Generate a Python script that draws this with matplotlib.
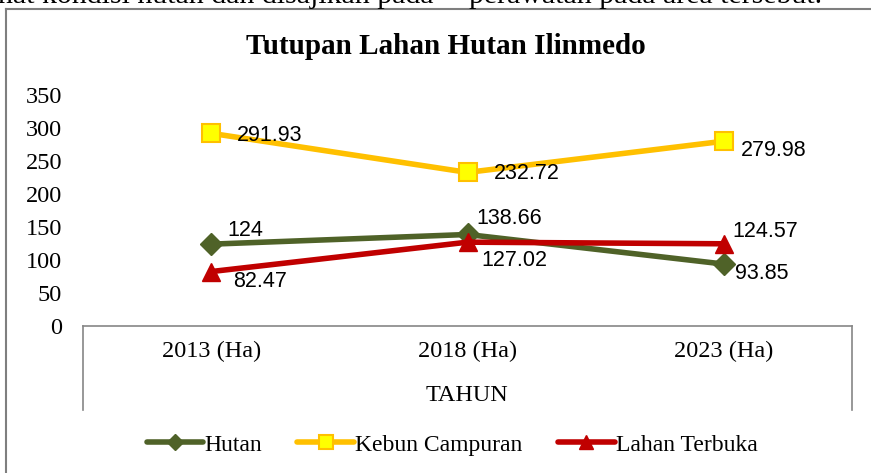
import matplotlib.pyplot as plt
from matplotlib.lines import Line2D

# data
years = ['2013 (Ha)', '2018 (Ha)', '2023 (Ha)']
hutan = [124, 138.66, 93.85]
kebun = [291.93, 232.72, 279.98]
lahan = [82.47, 127.02, 124.57]
yticks = [0, 50, 100, 150, 200, 250, 300, 350]

# label offsets in pixels (dx, dy) relative to each marker
off_hutan = [(16, 14), (9, 16), (11, -9)]
off_kebun = [(26, -2), (26, -1), (17, -9)]
off_lahan = [(22, -10), (14, -18), (9, 12)]

serif = 'Liberation Serif'
sans = 'Liberation Sans'

fig = plt.figure(figsize=(8.71, 4.73), dpi=100)
ax = fig.add_axes([83 / 871, 1 - 326 / 473, 769 / 871, 231 / 473])

x = range(len(years))
series = [
    ('Hutan', hutan, dict(color='#4F6228', marker='D', markersize=11,
                          markerfacecolor='#4F6228', markeredgecolor='#4F6228'), off_hutan),
    ('Kebun Campuran', kebun, dict(color='#FFC000', marker='s', markersize=12.5,
                                   markerfacecolor='#FFFF00', markeredgecolor='#FFC000',
                                   markeredgewidth=1.5), off_kebun),
    ('Lahan Terbuka', lahan, dict(color='#C00000', marker='^', markersize=13.5,
                                  markerfacecolor='#C00000', markeredgecolor='#C00000'), off_lahan),
]

for name, vals, style, offs in series:
    ax.plot(x, vals, lw=4, label=name, solid_capstyle='round', **style)
    for xi, v, (dx, dy) in zip(x, vals, offs):
        ax.annotate(f'{v:g}', (xi, v), xytext=(dx * 0.72, dy * 0.72),
                    textcoords='offset points', ha='left', va='center',
                    fontsize=15.5, family=sans, color='black')

ax.set_xlim(-0.5, 2.5)
ax.set_ylim(0, 350)
ax.set_yticks(yticks)
ax.set_xticks(list(x))
ax.set_xticklabels(years, family=serif, fontsize=17.5)
ax.set_yticklabels([str(t) for t in yticks], family=serif, fontsize=17.5)
ax.tick_params(axis='y', length=0, pad=15)
ax.tick_params(axis='x', length=0, pad=11)
for s in ['top', 'right', 'left']:
    ax.spines[s].set_visible(False)
ax.spines['bottom'].set_color('#868686')
ax.spines['bottom'].set_linewidth(1.2)

# category box lines below axis
for xp in [83, 852]:
    fig.add_artist(Line2D([xp / 871, xp / 871], [1 - 326 / 473, 1 - 410 / 473],
                          color='#868686', lw=1.2))
fig.text(467 / 871, 1 - 395 / 473, 'TAHUN', ha='center', va='center',
         family=serif, fontsize=17.5)

fig.text(446 / 871, 1 - 47 / 473, 'Tutupan Lahan Hutan Ilinmedo', ha='center',
         va='center', family=serif, fontsize=21, fontweight='bold')

# outer chart border
fig.add_artist(Line2D([6 / 871, 6 / 871], [0, 1 - 9 / 473], color='#7F7F7F', lw=1.5))
fig.add_artist(Line2D([6 / 871, 1], [1 - 9 / 473, 1 - 9 / 473], color='#7F7F7F', lw=1.5))

# clipped text line from the document above the chart
fig.text(-2 / 871, 1 - 3 / 473, 'hat kondisi hutan dan disajikan pada',
         ha='left', va='baseline', family=serif, fontsize=21.5)
fig.text(469 / 871, 1 - 3 / 473, 'perawatan pada area tersebut.',
         ha='left', va='baseline', family=serif, fontsize=21.5)

leg = fig.legend(loc='center', bbox_to_anchor=(452 / 871, 1 - 445 / 473), ncol=3,
                 frameon=False, prop={'family': serif, 'size': 17},
                 handlelength=2.4, handletextpad=0.05, columnspacing=1.5,
                 markerscale=0.75)

fig.savefig('out.png', dpi=100)
